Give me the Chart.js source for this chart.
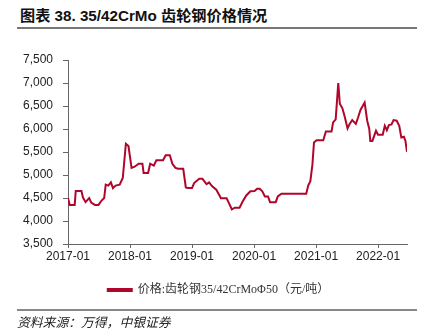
<!DOCTYPE html>
<html>
<head>
<meta charset="utf-8">
<script src="https://cdn.jsdelivr.net/npm/chart.js@4.4.0/dist/chart.umd.min.js"></script>
<style>
  html, body { margin: 0; padding: 0; background: #fff; }
  body { width: 434px; height: 333px; position: relative; overflow: hidden; }
  #title { position: absolute; left: 20px; top: 3px; font-family: "Liberation Sans Narrow", "Liberation Sans", "Noto Sans CJK SC", sans-serif; font-weight: bold; font-size: 15.2px; color: #111; white-space: nowrap; }
  #rule1 { position: absolute; left: 17px; top: 27px; width: 400px; height: 2px; background: #777; }
  #rule2 { position: absolute; left: 17px; top: 309px; width: 400px; height: 1.5px; background: #888; }
  #source { position: absolute; left: 17px; top: 312px; font-family: "Noto Sans CJK SC", sans-serif; font-style: italic; font-size: 12.8px; color: #222; white-space: nowrap; }
  #wrap { position: absolute; left: 0; top: 30px; width: 434px; height: 280px; }
</style>
</head>
<body>
<div id="title">图表 38. 35/42CrMo 齿轮钢价格情况</div>
<div id="rule1"></div>
<div id="wrap"><canvas id="c"></canvas></div>
<div id="rule2"></div>
<div id="source">资料来源：万得，中银证券</div>
<script>
const seriesName = "价格:齿轮钢35/42CrMoΦ50（元/吨）";
const tickLabels = ["2017-01", "2018-01", "2019-01", "2020-01", "2021-01", "2022-01"];
const dates = [
  "2017-01-01","2017-01-11","2017-02-10","2017-02-16","2017-03-19","2017-03-28","2017-04-13","2017-05-04","2017-05-16","2017-06-07",
  "2017-06-28","2017-07-16","2017-08-01","2017-08-10","2017-08-25","2017-09-10","2017-09-22","2017-10-07","2017-11-01","2017-11-19",
  "2017-12-07","2017-12-22","2018-01-10","2018-01-28","2018-02-21","2018-03-13","2018-03-20","2018-04-16","2018-04-28","2018-05-19",
  "2018-06-04","2018-07-13","2018-07-28","2018-08-22","2018-09-07","2018-09-25","2018-10-10","2018-11-10","2018-11-25","2018-12-07",
  "2019-01-01","2019-01-13","2019-02-13","2019-03-01","2019-03-25","2019-04-10","2019-04-28","2019-05-22","2019-06-19","2019-07-22",
  "2019-08-04","2019-08-22","2019-09-10","2019-10-07","2019-10-25","2019-11-16","2019-12-10","2020-01-04","2020-01-19","2020-02-04",
  "2020-02-19","2020-03-04","2020-03-22","2020-04-04","2020-05-07","2020-05-19","2020-06-10","2020-11-04","2020-11-16","2020-11-28",
  "2020-12-10","2020-12-19","2021-01-04","2021-02-13","2021-02-28","2021-04-01","2021-04-10","2021-04-25","2021-05-10","2021-05-19",
  "2021-06-04","2021-06-16","2021-07-04","2021-07-16","2021-08-01","2021-08-22","2021-09-04","2021-09-19","2021-10-13","2021-10-28",
  "2021-11-10","2021-11-16","2021-11-28","2021-12-19","2022-01-01","2022-01-28","2022-02-10","2022-02-22","2022-03-04","2022-03-19",
  "2022-04-01","2022-04-19","2022-05-04","2022-05-16","2022-06-01","2022-06-10","2022-06-19"
];
const prices = [
  4500,4350,4350,4650,4650,4510,4410,4500,4400,4350,
  4350,4445,4500,4790,4770,4840,4715,4770,4790,4935,
  5680,5630,5155,5180,5245,5245,5045,5045,5245,5205,
  5320,5320,5430,5430,5245,5155,5135,5135,4730,4715,
  4715,4825,4920,4920,4800,4840,4755,4680,4495,4495,
  4400,4255,4290,4290,4425,4555,4645,4650,4700,4700,
  4645,4535,4535,4410,4410,4535,4595,4595,4775,4865,
  5230,5705,5755,5755,5945,5945,6145,6210,7000,6550,
  6450,6290,6010,6110,6195,6110,6240,6415,6575,6180,
  6000,5740,5740,5960,5875,5875,6070,5975,6085,6100,
  6195,6180,6070,5815,5830,5740,5505
];

function monthIndex(s) {
  const [y, m, d] = s.split("-").map(Number);
  return (y - 2017) * 12 + (m - 1) + (d - 1) / 30;
}
const points = dates.map((d, i) => ({ x: monthIndex(d), y: prices[i] }));

const axisColor = "#666";
const tickFont = { family: "'Liberation Sans Narrow', 'Liberation Sans', Arial, sans-serif", size: 12 };

const shiftLegend = {
  id: "shiftLegend",
  afterLayout(chart) {
    if (chart.legend) { chart.legend.left += 15; chart.legend.right += 15; }
  }
};

new Chart(document.getElementById("c"), {
  type: "line",
  data: {
    datasets: [{
      label: seriesName,
      data: points,
      borderColor: "#B0062C",
      backgroundColor: "#B0062C",
      borderWidth: 2,
      pointRadius: 0,
      tension: 0,
      fill: false
    }]
  },
  options: {
    responsive: true,
    maintainAspectRatio: false,
    animation: false,
    layout: { padding: { left: 0, right: 27, top: 30, bottom: 4 } },
    plugins: {
      tooltip: { enabled: false },
      legend: {
        position: "bottom",
        labels: {
          boxWidth: 24,
          boxHeight: 2,
          color: "#333",
          padding: 10,
          font: { family: "'Liberation Serif', 'Noto Sans CJK SC', serif", size: 12 }
        }
      }
    },
    scales: {
      x: {
        type: "linear",
        min: 0,
        max: 65.6,
        afterBuildTicks: (s) => { s.ticks = tickLabels.map((t, i) => ({ value: i * 12 })); },
        afterFit: (s) => { s.height = 30; },
        ticks: {
          autoSkip: false,
          maxRotation: 0,
          color: "#222",
          font: tickFont,
          padding: 1,
          callback: (v) => tickLabels[Math.round(v / 12)]
        },
        grid: { drawOnChartArea: false, drawTicks: true, tickLength: 4, color: axisColor },
        border: { color: axisColor, width: 1 }
      },
      y: {
        min: 3500,
        max: 7500,
        afterFit: (s) => { s.width = 68; },
        ticks: {
          stepSize: 500,
          color: "#222",
          font: tickFont,
          padding: 10,
          callback: (v) => v.toLocaleString("en-US")
        },
        grid: { drawOnChartArea: false, drawTicks: true, tickLength: 5, color: axisColor },
        border: { color: axisColor, width: 1 }
      }
    }
  },
  plugins: [shiftLegend]
});
</script>
</body>
</html>
